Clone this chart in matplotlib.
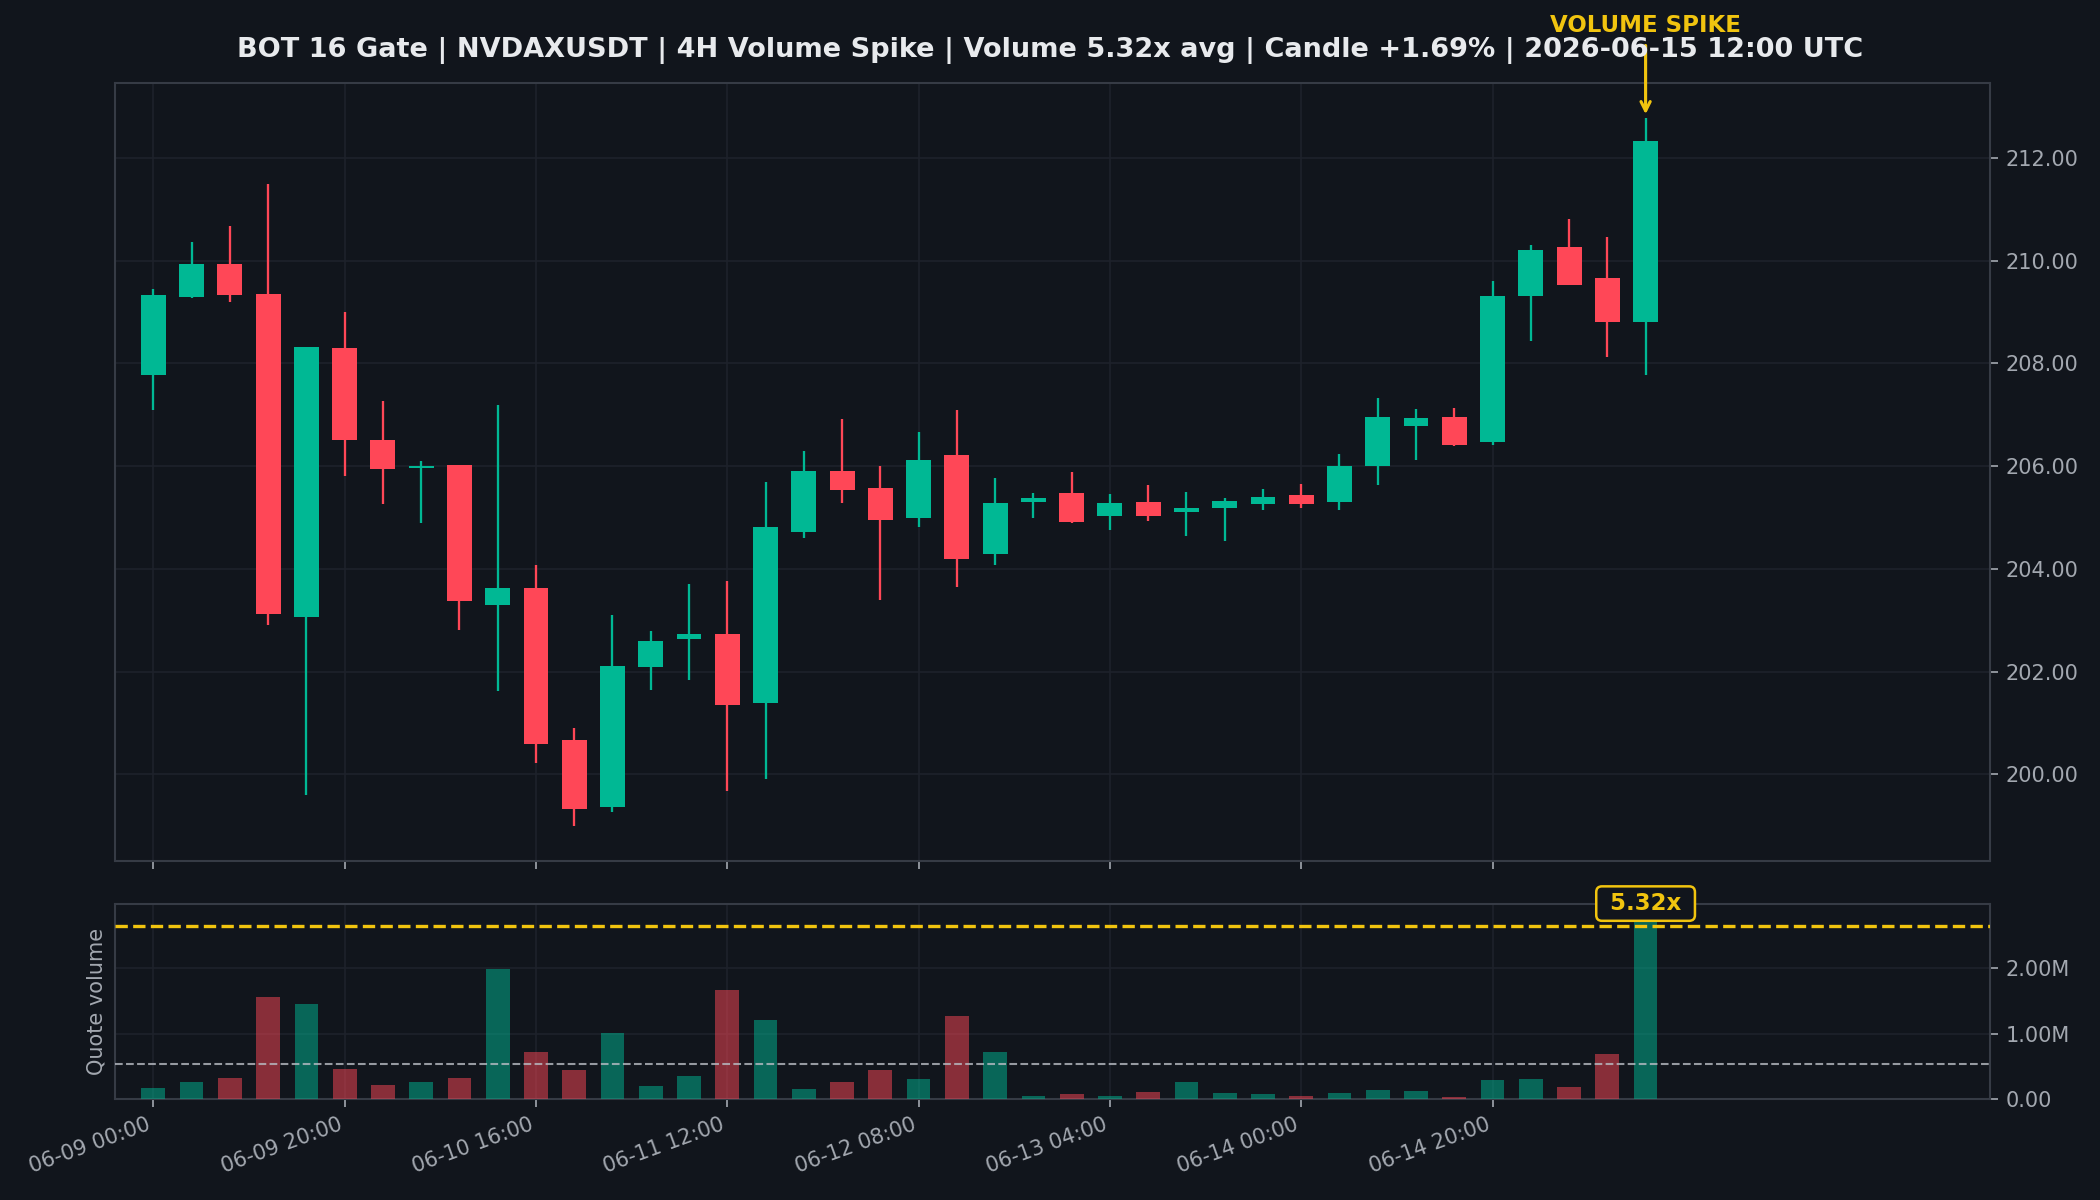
import matplotlib
matplotlib.use('Agg')
import matplotlib.pyplot as plt
from matplotlib.ticker import MultipleLocator, FormatStrFormatter, FuncFormatter

BG = '#11151c'
GREEN = '#00b894'
RED = '#ff4757'
GOLD = '#f1c40f'
TEXT = '#e8eaed'
MUTED = '#a3a8b0'
GRID = '#1e222b'
SPINE = '#363b45'

# 4H candles, 06-09 00:00 -> 06-15 12:00
opens = [207.78, 209.29, 209.94, 209.36, 203.07, 208.29, 206.51, 205.97, 206.02, 203.30,
         203.63, 200.67, 199.36, 202.08, 202.64, 202.73, 201.38, 204.72, 205.90, 205.57,
         204.99, 206.22, 204.28, 205.30, 205.48, 205.03, 205.30, 205.11, 205.19, 205.27,
         205.44, 205.31, 206.00, 206.79, 206.96, 206.46, 209.31, 210.27, 209.67, 208.80]
highs = [209.44, 210.36, 210.68, 211.50, 208.32, 209.01, 207.27, 206.10, 206.03, 207.19,
         204.08, 200.91, 203.10, 202.79, 203.71, 203.76, 205.70, 206.30, 206.92, 206.01,
         206.67, 207.10, 205.77, 205.48, 205.88, 205.46, 205.63, 205.49, 205.37, 205.55,
         205.66, 206.23, 207.33, 207.12, 207.13, 209.61, 210.30, 210.82, 210.47, 212.77]
lows = [207.10, 209.27, 209.19, 202.91, 199.59, 205.81, 205.27, 204.90, 202.81, 201.63,
        200.21, 199.00, 199.26, 201.65, 201.83, 199.67, 199.90, 204.61, 205.29, 203.39,
        204.82, 203.65, 204.08, 204.99, 204.90, 204.76, 204.93, 204.64, 204.55, 205.14,
        205.19, 205.14, 205.64, 206.12, 206.40, 206.42, 208.43, 209.52, 208.12, 207.77]
closes = [209.34, 209.94, 209.34, 203.13, 208.32, 206.50, 205.94, 206.00, 203.38, 203.63,
          200.58, 199.32, 202.11, 202.60, 202.73, 201.34, 204.81, 205.90, 205.54, 204.95,
          206.12, 204.20, 205.28, 205.38, 204.92, 205.28, 205.03, 205.18, 205.32, 205.40,
          205.27, 206.01, 206.96, 206.94, 206.42, 209.32, 210.21, 209.52, 208.80, 212.33]
# quote volume in millions
volumes = [0.173, 0.254, 0.326, 1.552, 1.455, 0.453, 0.219, 0.254, 0.326, 1.980,
           0.712, 0.438, 1.013, 0.204, 0.356, 1.669, 1.211, 0.158, 0.265, 0.438,
           0.310, 1.272, 0.723, 0.051, 0.071, 0.041, 0.102, 0.254, 0.087, 0.071,
           0.041, 0.097, 0.132, 0.117, 0.025, 0.285, 0.300, 0.178, 0.682, 2.810]
avg_volume = 0.528
spike_threshold = 2.64

tick_pos = [0, 5, 10, 15, 20, 25, 30, 35]
tick_labels = ['06-09 00:00', '06-09 20:00', '06-10 16:00', '06-11 12:00',
               '06-12 08:00', '06-13 04:00', '06-14 00:00', '06-14 20:00']

title = ('BOT 16 Gate | NVDAXUSDT | 4H Volume Spike | Volume 5.32x avg | '
         'Candle +1.69% | 2026-06-15 12:00 UTC')

x = list(range(len(opens)))
up = [c >= o for o, c in zip(opens, closes)]
colors = [GREEN if u else RED for u in up]


def style(ax):
    ax.set_facecolor(BG)
    for s in ax.spines.values():
        s.set_color(SPINE)
        s.set_linewidth(1.0)
    ax.grid(True, color=GRID, lw=0.8)
    ax.set_axisbelow(True)
    ax.yaxis.tick_right()
    ax.tick_params(colors=MUTED, labelsize=10, length=4)


fig = plt.figure(figsize=(14, 8), dpi=150, facecolor=BG)
ax = fig.add_axes([0.0548, 0.2825, 0.8928, 0.6483])
axv = fig.add_axes([0.0548, 0.0842, 0.8928, 0.1625], sharex=ax)
style(ax)
style(axv)

# candles
ax.vlines(x, lows, highs, colors=colors, lw=1.1, zorder=2)
bottoms = [min(o, c) for o, c in zip(opens, closes)]
heights = [max(abs(c - o), 0.04) for o, c in zip(opens, closes)]
ax.bar(x, heights, bottom=bottoms, width=0.65, color=colors, lw=0, zorder=3)

pad = 0.05 * (max(highs) - min(lows))
ax.set_ylim(min(lows) - pad, max(highs) + pad)
ax.set_xlim(-1, 48)
ax.yaxis.set_major_locator(MultipleLocator(2))
ax.yaxis.set_major_formatter(FormatStrFormatter('%.2f'))
plt.setp(ax.get_xticklabels(), visible=False)

ax.annotate('VOLUME SPIKE', xy=(39, highs[39]), xytext=(0, 39), textcoords='offset points',
            ha='center', va='bottom', color=GOLD, fontsize=11, fontweight='bold',
            arrowprops=dict(arrowstyle='->', color=GOLD, lw=1.5), annotation_clip=False)

# volume
vol_raw = [v * 1e6 for v in volumes]
axv.bar(x, vol_raw, width=0.62, color=colors, alpha=0.5, lw=0, zorder=3)
axv.axhline(avg_volume * 1e6, color='#b8bcc4', lw=1.0, ls='--', alpha=0.8, zorder=4)
axv.axhline(spike_threshold * 1e6, color=GOLD, lw=1.6, ls='--', zorder=4)
axv.set_ylim(0, 2.98e6)
axv.yaxis.set_major_locator(MultipleLocator(1e6))
axv.yaxis.set_major_formatter(FuncFormatter(lambda v, p: '0.00' if v == 0 else '{:.2f}M'.format(v / 1e6)))
axv.set_ylabel('Quote volume', color=MUTED, fontsize=10)
axv.yaxis.set_label_position('left')
axv.text(39, vol_raw[39], ' 5.32x ', ha='center', va='bottom', color=GOLD, fontsize=11,
         fontweight='bold', zorder=6, clip_on=False,
         bbox=dict(boxstyle='round,pad=0.25', fc=BG, ec=GOLD, lw=1.2))

axv.set_xticks(tick_pos)
axv.set_xticklabels(tick_labels, rotation=20, ha='right')

fig.suptitle(title, color=TEXT, fontsize=13, fontweight='bold', y=0.958, va='center')

fig.savefig('out.png', dpi=150, facecolor=BG)
